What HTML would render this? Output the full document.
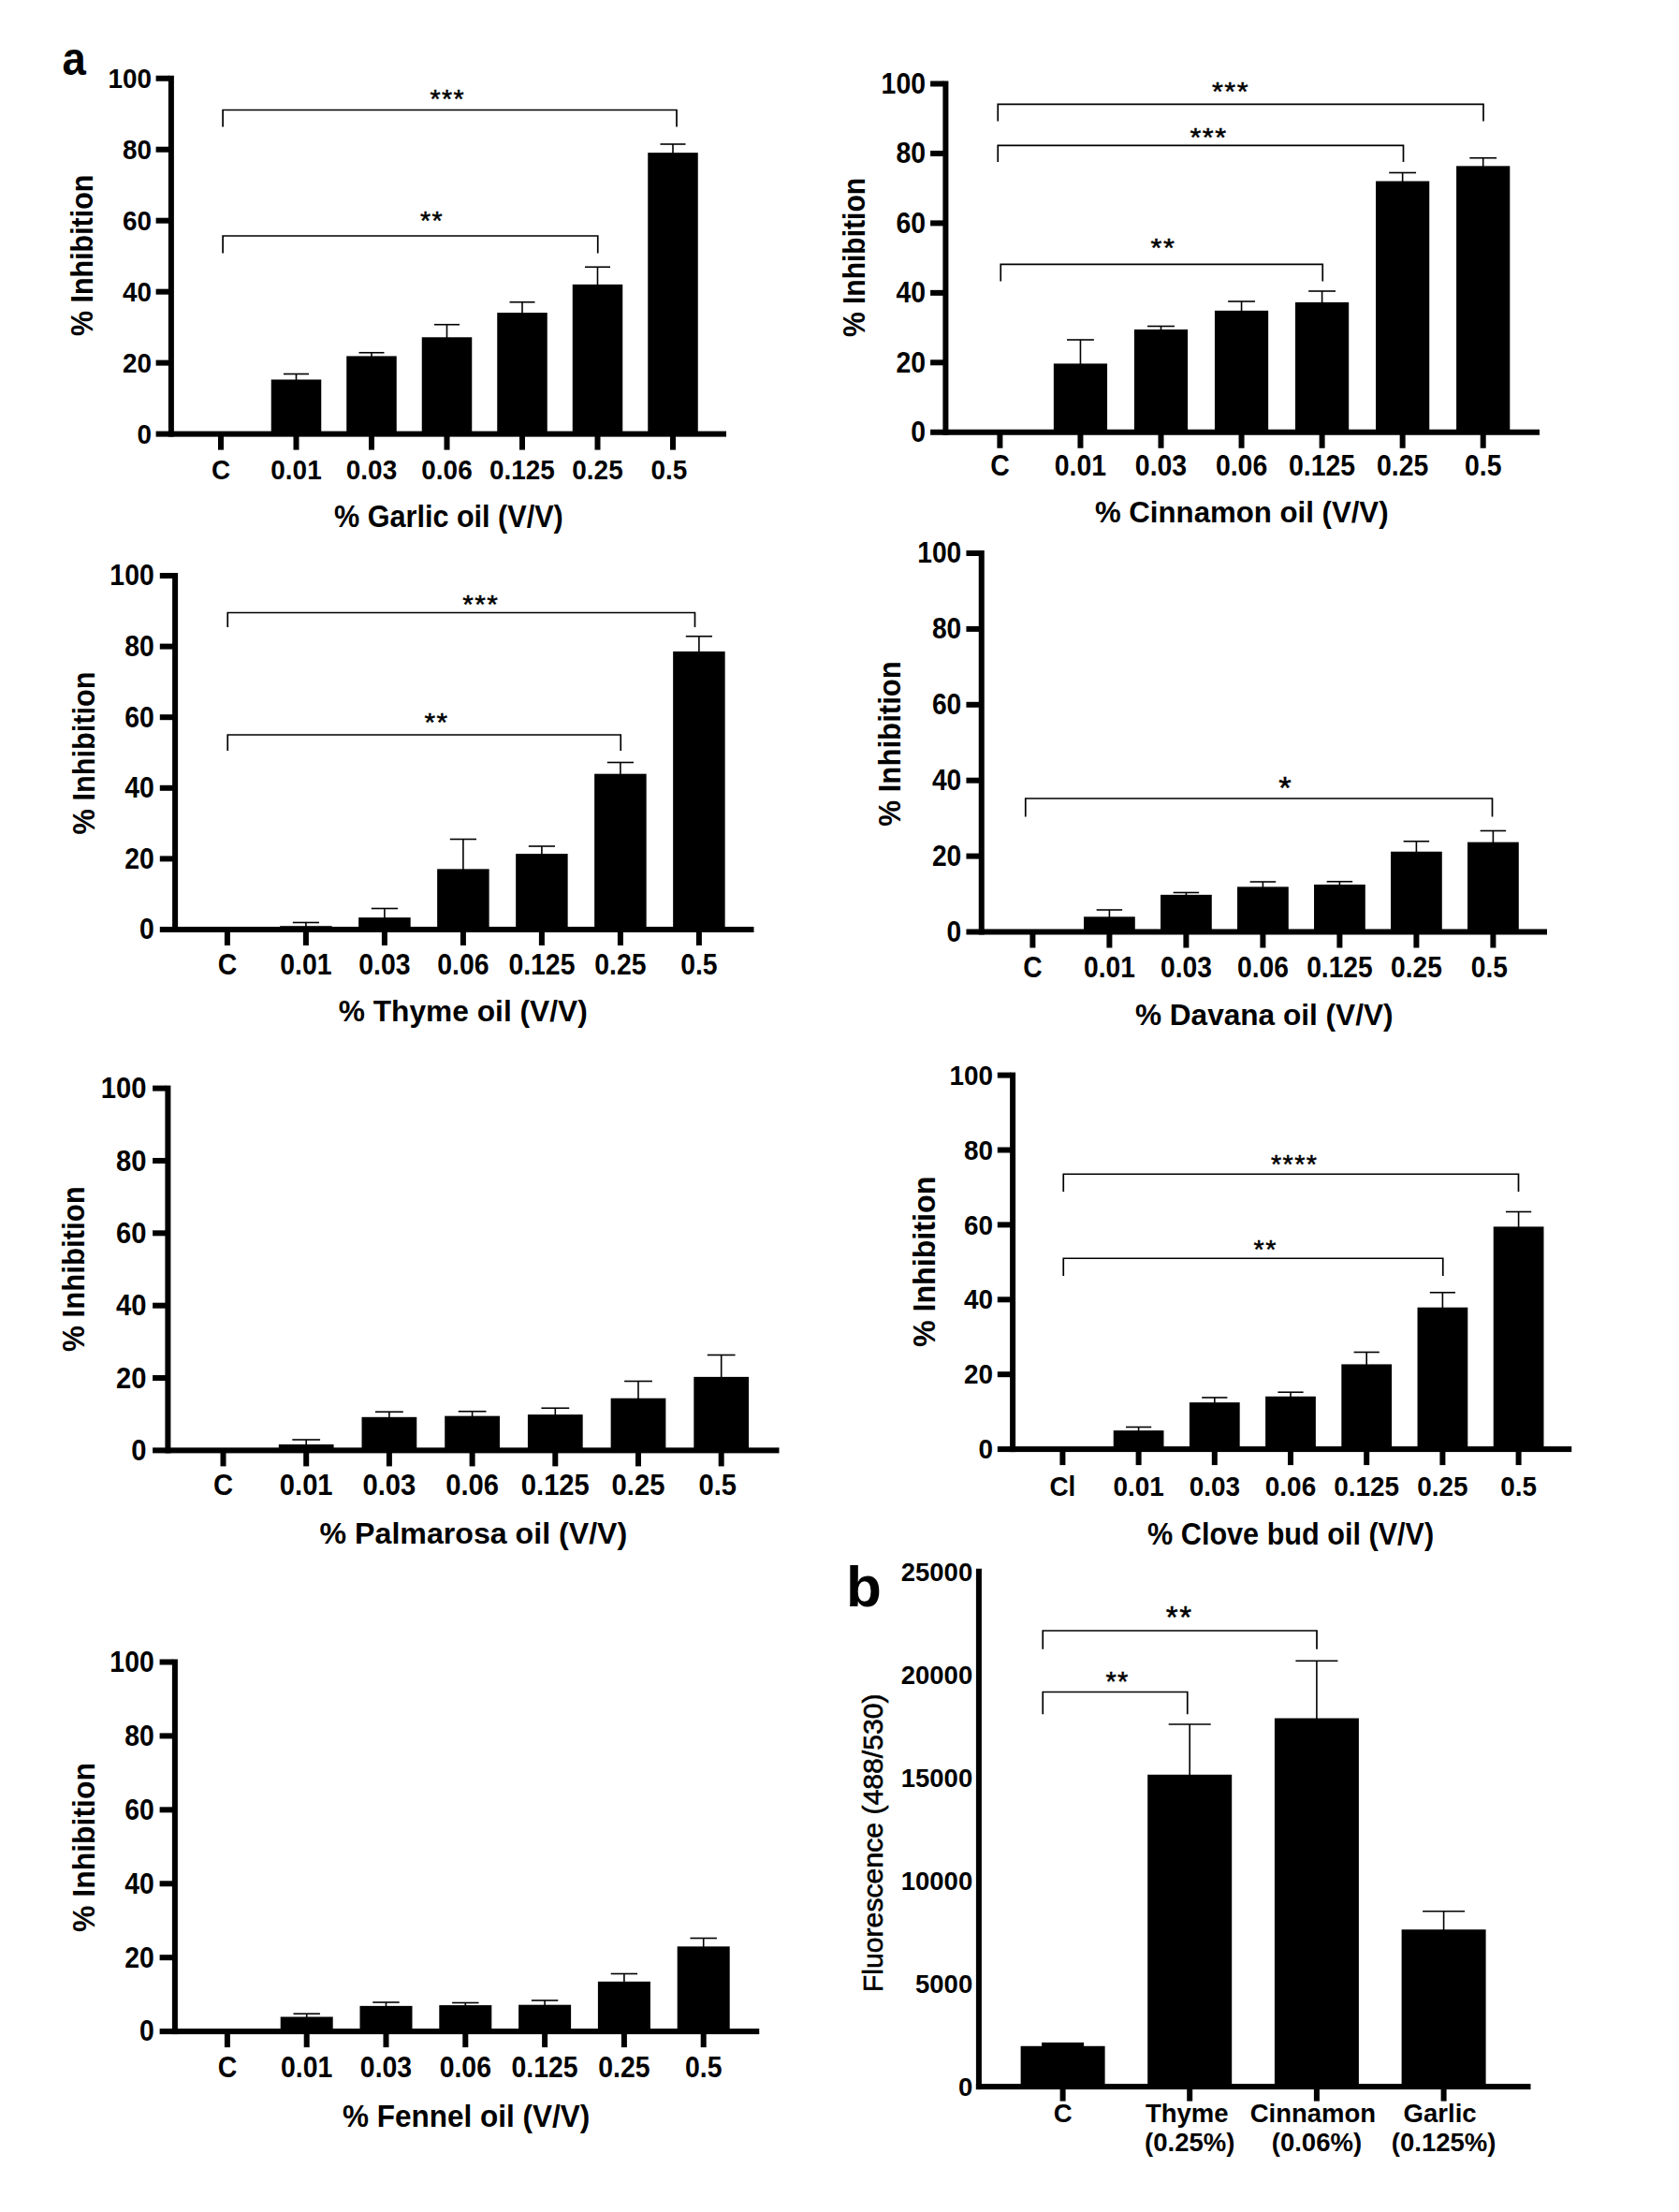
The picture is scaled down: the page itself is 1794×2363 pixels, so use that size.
<!DOCTYPE html>
<html lang="en">
<head>
<meta charset="utf-8">
<title>Essential oil inhibition figure</title>
<style>
html,body{margin:0;padding:0;background:#fff;}
body{width:1794px;height:2363px;overflow:hidden;}
svg{display:block;}
svg text{font-family:"Liberation Sans", Arial, Helvetica, sans-serif;fill:#000;}
svg rect{fill:#000;}
</style>
</head>
<body>
<svg width="1794" height="2363" viewBox="0 0 1794 2363">
<rect x="0" y="0" width="1794" height="2363" style="fill:#fff"/>
<rect x="179.90" y="80.75" width="6.00" height="385.85"/>
<rect x="166.60" y="460.60" width="609.40" height="6.00"/>
<text transform="translate(162.10 473.75) scale(0.9225 1)" font-size="30.24" font-weight="700" text-anchor="end">0</text>
<rect x="166.60" y="384.63" width="14.30" height="6.00"/>
<text transform="translate(162.10 397.78) scale(0.9225 1)" font-size="30.24" font-weight="700" text-anchor="end">20</text>
<rect x="166.60" y="308.66" width="14.30" height="6.00"/>
<text transform="translate(162.10 321.81) scale(0.9225 1)" font-size="30.24" font-weight="700" text-anchor="end">40</text>
<rect x="166.60" y="232.69" width="14.30" height="6.00"/>
<text transform="translate(162.10 245.84) scale(0.9225 1)" font-size="30.24" font-weight="700" text-anchor="end">60</text>
<rect x="166.60" y="156.72" width="14.30" height="6.00"/>
<text transform="translate(162.10 169.87) scale(0.9225 1)" font-size="30.24" font-weight="700" text-anchor="end">80</text>
<rect x="166.60" y="80.75" width="14.30" height="6.00"/>
<text transform="translate(162.10 93.90) scale(0.9225 1)" font-size="30.24" font-weight="700" text-anchor="end">100</text>
<rect x="233.00" y="463.60" width="6.00" height="17.00"/>
<text transform="translate(236.00 511.50) scale(0.9225 1)" font-size="30.24" font-weight="700" text-anchor="middle">C</text>
<rect x="313.50" y="463.60" width="6.00" height="17.00"/>
<rect x="289.75" y="405.48" width="53.50" height="58.12"/>
<line x1="316.50" y1="399.50" x2="316.50" y2="406.48" stroke="#000" stroke-width="1.6"/>
<line x1="303.00" y1="399.50" x2="330.00" y2="399.50" stroke="#000" stroke-width="1.6"/>
<text transform="translate(316.50 511.50) scale(0.9225 1)" font-size="30.24" font-weight="700" text-anchor="middle">0.01</text>
<rect x="394.00" y="463.60" width="6.00" height="17.00"/>
<rect x="370.25" y="380.41" width="53.50" height="83.19"/>
<line x1="397.00" y1="376.75" x2="397.00" y2="381.41" stroke="#000" stroke-width="1.6"/>
<line x1="383.50" y1="376.75" x2="410.50" y2="376.75" stroke="#000" stroke-width="1.6"/>
<text transform="translate(397.00 511.50) scale(0.9225 1)" font-size="30.24" font-weight="700" text-anchor="middle">0.03</text>
<rect x="474.50" y="463.60" width="6.00" height="17.00"/>
<rect x="450.75" y="360.28" width="53.50" height="103.32"/>
<line x1="477.50" y1="346.75" x2="477.50" y2="361.28" stroke="#000" stroke-width="1.6"/>
<line x1="464.00" y1="346.75" x2="491.00" y2="346.75" stroke="#000" stroke-width="1.6"/>
<text transform="translate(477.50 511.50) scale(0.9225 1)" font-size="30.24" font-weight="700" text-anchor="middle">0.06</text>
<rect x="555.00" y="463.60" width="6.00" height="17.00"/>
<rect x="531.25" y="334.07" width="53.50" height="129.53"/>
<line x1="558.00" y1="322.75" x2="558.00" y2="335.07" stroke="#000" stroke-width="1.6"/>
<line x1="544.50" y1="322.75" x2="571.50" y2="322.75" stroke="#000" stroke-width="1.6"/>
<text transform="translate(558.00 511.50) scale(0.9225 1)" font-size="30.24" font-weight="700" text-anchor="middle">0.125</text>
<rect x="635.50" y="463.60" width="6.00" height="17.00"/>
<rect x="611.75" y="303.87" width="53.50" height="159.73"/>
<line x1="638.50" y1="285.25" x2="638.50" y2="304.87" stroke="#000" stroke-width="1.6"/>
<line x1="625.00" y1="285.25" x2="652.00" y2="285.25" stroke="#000" stroke-width="1.6"/>
<text transform="translate(638.50 511.50) scale(0.9225 1)" font-size="30.24" font-weight="700" text-anchor="middle">0.25</text>
<rect x="716.00" y="463.60" width="6.00" height="17.00"/>
<rect x="692.25" y="163.14" width="53.50" height="300.46"/>
<line x1="719.00" y1="154.00" x2="719.00" y2="164.14" stroke="#000" stroke-width="1.6"/>
<line x1="705.50" y1="154.00" x2="732.50" y2="154.00" stroke="#000" stroke-width="1.6"/>
<text transform="translate(715.00 511.50) scale(0.9225 1)" font-size="30.24" font-weight="700" text-anchor="middle">0.5</text>
<path d="M238.10 135.40V117.50H723.00V135.40" fill="none" stroke="#000" stroke-width="1.7" stroke-linejoin="miter"/>
<text transform="translate(478.21 115.11)" font-size="28.50" font-weight="400" text-anchor="middle" letter-spacing="1.43" stroke="#000" stroke-width="0.5">***</text>
<path d="M238.10 270.50V252.00H638.75V270.50" fill="none" stroke="#000" stroke-width="1.7" stroke-linejoin="miter"/>
<text transform="translate(461.46 245.21)" font-size="28.50" font-weight="400" text-anchor="middle" letter-spacing="1.43" stroke="#000" stroke-width="0.5">**</text>
<text transform="translate(479.40 562.80) scale(0.9434 1)" font-size="32.44" font-weight="700" text-anchor="middle">% Garlic oil (V/V)</text>
<text transform="translate(99.00 272.80) rotate(-90) scale(0.9217 1)" font-size="33.00" font-weight="700" text-anchor="middle">% Inhibition</text>
<rect x="1007.40" y="86.50" width="6.00" height="378.25"/>
<rect x="994.10" y="458.75" width="650.90" height="6.00"/>
<text transform="translate(989.00 472.09) scale(0.9225 1)" font-size="30.78" font-weight="700" text-anchor="end">0</text>
<rect x="994.10" y="384.30" width="14.30" height="6.00"/>
<text transform="translate(989.00 397.64) scale(0.9225 1)" font-size="30.78" font-weight="700" text-anchor="end">20</text>
<rect x="994.10" y="309.85" width="14.30" height="6.00"/>
<text transform="translate(989.00 323.19) scale(0.9225 1)" font-size="30.78" font-weight="700" text-anchor="end">40</text>
<rect x="994.10" y="235.40" width="14.30" height="6.00"/>
<text transform="translate(989.00 248.74) scale(0.9225 1)" font-size="30.78" font-weight="700" text-anchor="end">60</text>
<rect x="994.10" y="160.95" width="14.30" height="6.00"/>
<text transform="translate(989.00 174.29) scale(0.9225 1)" font-size="30.78" font-weight="700" text-anchor="end">80</text>
<rect x="994.10" y="86.50" width="14.30" height="6.00"/>
<text transform="translate(989.00 99.84) scale(0.9225 1)" font-size="30.78" font-weight="700" text-anchor="end">100</text>
<rect x="1065.40" y="461.75" width="6.00" height="17.00"/>
<text transform="translate(1068.40 507.80) scale(0.9225 1)" font-size="30.78" font-weight="700" text-anchor="middle">C</text>
<rect x="1151.45" y="461.75" width="6.00" height="17.00"/>
<rect x="1125.85" y="388.42" width="57.20" height="73.33"/>
<line x1="1154.45" y1="363.00" x2="1154.45" y2="389.42" stroke="#000" stroke-width="1.6"/>
<line x1="1140.02" y1="363.00" x2="1168.88" y2="363.00" stroke="#000" stroke-width="1.6"/>
<text transform="translate(1154.45 507.80) scale(0.9225 1)" font-size="30.78" font-weight="700" text-anchor="middle">0.01</text>
<rect x="1237.50" y="461.75" width="6.00" height="17.00"/>
<rect x="1211.90" y="351.94" width="57.20" height="109.81"/>
<line x1="1240.50" y1="348.50" x2="1240.50" y2="352.94" stroke="#000" stroke-width="1.6"/>
<line x1="1226.07" y1="348.50" x2="1254.93" y2="348.50" stroke="#000" stroke-width="1.6"/>
<text transform="translate(1240.50 507.80) scale(0.9225 1)" font-size="30.78" font-weight="700" text-anchor="middle">0.03</text>
<rect x="1323.55" y="461.75" width="6.00" height="17.00"/>
<rect x="1297.95" y="331.83" width="57.20" height="129.92"/>
<line x1="1326.55" y1="322.00" x2="1326.55" y2="332.83" stroke="#000" stroke-width="1.6"/>
<line x1="1312.12" y1="322.00" x2="1340.98" y2="322.00" stroke="#000" stroke-width="1.6"/>
<text transform="translate(1326.55 507.80) scale(0.9225 1)" font-size="30.78" font-weight="700" text-anchor="middle">0.06</text>
<rect x="1409.60" y="461.75" width="6.00" height="17.00"/>
<rect x="1384.00" y="322.90" width="57.20" height="138.85"/>
<line x1="1412.60" y1="311.00" x2="1412.60" y2="323.90" stroke="#000" stroke-width="1.6"/>
<line x1="1398.17" y1="311.00" x2="1427.03" y2="311.00" stroke="#000" stroke-width="1.6"/>
<text transform="translate(1412.60 507.80) scale(0.9225 1)" font-size="30.78" font-weight="700" text-anchor="middle">0.125</text>
<rect x="1495.65" y="461.75" width="6.00" height="17.00"/>
<rect x="1470.05" y="193.51" width="57.20" height="268.24"/>
<line x1="1498.65" y1="184.50" x2="1498.65" y2="194.51" stroke="#000" stroke-width="1.6"/>
<line x1="1484.22" y1="184.50" x2="1513.08" y2="184.50" stroke="#000" stroke-width="1.6"/>
<text transform="translate(1498.65 507.80) scale(0.9225 1)" font-size="30.78" font-weight="700" text-anchor="middle">0.25</text>
<rect x="1581.70" y="461.75" width="6.00" height="17.00"/>
<rect x="1556.10" y="177.35" width="57.20" height="284.40"/>
<line x1="1584.70" y1="168.75" x2="1584.70" y2="178.35" stroke="#000" stroke-width="1.6"/>
<line x1="1570.27" y1="168.75" x2="1599.13" y2="168.75" stroke="#000" stroke-width="1.6"/>
<text transform="translate(1584.70 507.80) scale(0.9225 1)" font-size="30.78" font-weight="700" text-anchor="middle">0.5</text>
<path d="M1066.25 129.50V111.40H1585.00V129.50" fill="none" stroke="#000" stroke-width="1.7" stroke-linejoin="miter"/>
<text transform="translate(1315.06 106.76) scale(1.0689 1)" font-size="28.50" font-weight="400" text-anchor="middle" letter-spacing="1.43" stroke="#000" stroke-width="0.5">***</text>
<path d="M1066.25 173.00V155.30H1499.50V173.00" fill="none" stroke="#000" stroke-width="1.7" stroke-linejoin="miter"/>
<text transform="translate(1291.46 156.21) scale(1.0689 1)" font-size="28.50" font-weight="400" text-anchor="middle" letter-spacing="1.43" stroke="#000" stroke-width="0.5">***</text>
<path d="M1069.25 300.50V282.30H1413.25V300.50" fill="none" stroke="#000" stroke-width="1.7" stroke-linejoin="miter"/>
<text transform="translate(1242.96 274.31) scale(1.0689 1)" font-size="28.50" font-weight="400" text-anchor="middle" letter-spacing="1.43" stroke="#000" stroke-width="0.5">**</text>
<text transform="translate(1326.75 557.90) scale(0.9804 1)" font-size="31.82" font-weight="700" text-anchor="middle">% Cinnamon oil (V/V)</text>
<text transform="translate(924.00 275.00) rotate(-90) scale(0.9108 1)" font-size="33.00" font-weight="700" text-anchor="middle">% Inhibition</text>
<rect x="184.10" y="612.00" width="6.00" height="384.00"/>
<rect x="170.80" y="990.00" width="634.70" height="6.00"/>
<text transform="translate(164.75 1003.34) scale(0.9225 1)" font-size="30.78" font-weight="700" text-anchor="end">0</text>
<rect x="170.80" y="914.40" width="14.30" height="6.00"/>
<text transform="translate(164.75 927.74) scale(0.9225 1)" font-size="30.78" font-weight="700" text-anchor="end">20</text>
<rect x="170.80" y="838.80" width="14.30" height="6.00"/>
<text transform="translate(164.75 852.14) scale(0.9225 1)" font-size="30.78" font-weight="700" text-anchor="end">40</text>
<rect x="170.80" y="763.20" width="14.30" height="6.00"/>
<text transform="translate(164.75 776.54) scale(0.9225 1)" font-size="30.78" font-weight="700" text-anchor="end">60</text>
<rect x="170.80" y="687.60" width="14.30" height="6.00"/>
<text transform="translate(164.75 700.94) scale(0.9225 1)" font-size="30.78" font-weight="700" text-anchor="end">80</text>
<rect x="170.80" y="612.00" width="14.30" height="6.00"/>
<text transform="translate(164.75 625.34) scale(0.9225 1)" font-size="30.78" font-weight="700" text-anchor="end">100</text>
<rect x="239.90" y="993.00" width="6.00" height="17.00"/>
<text transform="translate(242.90 1040.50) scale(0.9225 1)" font-size="30.78" font-weight="700" text-anchor="middle">C</text>
<rect x="323.90" y="993.00" width="6.00" height="17.00"/>
<rect x="299.15" y="989.22" width="55.50" height="3.78"/>
<line x1="326.90" y1="985.50" x2="326.90" y2="990.22" stroke="#000" stroke-width="1.6"/>
<line x1="312.81" y1="985.50" x2="340.99" y2="985.50" stroke="#000" stroke-width="1.6"/>
<text transform="translate(326.90 1040.50) scale(0.9225 1)" font-size="30.78" font-weight="700" text-anchor="middle">0.01</text>
<rect x="407.90" y="993.00" width="6.00" height="17.00"/>
<rect x="383.15" y="980.15" width="55.50" height="12.85"/>
<line x1="410.90" y1="970.50" x2="410.90" y2="981.15" stroke="#000" stroke-width="1.6"/>
<line x1="396.81" y1="970.50" x2="424.99" y2="970.50" stroke="#000" stroke-width="1.6"/>
<text transform="translate(410.90 1040.50) scale(0.9225 1)" font-size="30.78" font-weight="700" text-anchor="middle">0.03</text>
<rect x="491.90" y="993.00" width="6.00" height="17.00"/>
<rect x="467.15" y="928.36" width="55.50" height="64.64"/>
<line x1="494.90" y1="896.50" x2="494.90" y2="929.36" stroke="#000" stroke-width="1.6"/>
<line x1="480.81" y1="896.50" x2="508.99" y2="896.50" stroke="#000" stroke-width="1.6"/>
<text transform="translate(494.90 1040.50) scale(0.9225 1)" font-size="30.78" font-weight="700" text-anchor="middle">0.06</text>
<rect x="575.90" y="993.00" width="6.00" height="17.00"/>
<rect x="551.15" y="912.11" width="55.50" height="80.89"/>
<line x1="578.90" y1="904.00" x2="578.90" y2="913.11" stroke="#000" stroke-width="1.6"/>
<line x1="564.81" y1="904.00" x2="592.99" y2="904.00" stroke="#000" stroke-width="1.6"/>
<text transform="translate(578.90 1040.50) scale(0.9225 1)" font-size="30.78" font-weight="700" text-anchor="middle">0.125</text>
<rect x="659.90" y="993.00" width="6.00" height="17.00"/>
<rect x="635.15" y="826.68" width="55.50" height="166.32"/>
<line x1="662.90" y1="814.50" x2="662.90" y2="827.68" stroke="#000" stroke-width="1.6"/>
<line x1="648.81" y1="814.50" x2="676.99" y2="814.50" stroke="#000" stroke-width="1.6"/>
<text transform="translate(662.90 1040.50) scale(0.9225 1)" font-size="30.78" font-weight="700" text-anchor="middle">0.25</text>
<rect x="743.90" y="993.00" width="6.00" height="17.00"/>
<rect x="719.15" y="695.89" width="55.50" height="297.11"/>
<line x1="746.90" y1="679.75" x2="746.90" y2="696.89" stroke="#000" stroke-width="1.6"/>
<line x1="732.81" y1="679.75" x2="760.99" y2="679.75" stroke="#000" stroke-width="1.6"/>
<text transform="translate(746.90 1040.50) scale(0.9225 1)" font-size="30.78" font-weight="700" text-anchor="middle">0.5</text>
<path d="M243.25 670.00V654.50H742.50V670.00" fill="none" stroke="#000" stroke-width="1.7" stroke-linejoin="miter"/>
<text transform="translate(513.84 654.86) scale(1.0435 1)" font-size="28.50" font-weight="400" text-anchor="middle" letter-spacing="1.43" stroke="#000" stroke-width="0.5">***</text>
<path d="M243.25 802.00V785.00H663.25V802.00" fill="none" stroke="#000" stroke-width="1.7" stroke-linejoin="miter"/>
<text transform="translate(466.49 780.61) scale(1.0435 1)" font-size="28.50" font-weight="400" text-anchor="middle" letter-spacing="1.43" stroke="#000" stroke-width="0.5">**</text>
<text transform="translate(494.75 1090.70) scale(0.9852 1)" font-size="32.18" font-weight="700" text-anchor="middle">% Thyme oil (V/V)</text>
<text transform="translate(100.75 804.40) rotate(-90) scale(0.9312 1)" font-size="33.00" font-weight="700" text-anchor="middle">% Inhibition</text>
<rect x="1045.75" y="588.00" width="6.00" height="410.50"/>
<rect x="1032.45" y="992.50" width="620.55" height="6.00"/>
<text transform="translate(1027.25 1005.77) scale(0.9225 1)" font-size="30.56" font-weight="700" text-anchor="end">0</text>
<rect x="1032.45" y="911.60" width="14.30" height="6.00"/>
<text transform="translate(1027.25 924.87) scale(0.9225 1)" font-size="30.56" font-weight="700" text-anchor="end">20</text>
<rect x="1032.45" y="830.70" width="14.30" height="6.00"/>
<text transform="translate(1027.25 843.97) scale(0.9225 1)" font-size="30.56" font-weight="700" text-anchor="end">40</text>
<rect x="1032.45" y="749.80" width="14.30" height="6.00"/>
<text transform="translate(1027.25 763.07) scale(0.9225 1)" font-size="30.56" font-weight="700" text-anchor="end">60</text>
<rect x="1032.45" y="668.90" width="14.30" height="6.00"/>
<text transform="translate(1027.25 682.17) scale(0.9225 1)" font-size="30.56" font-weight="700" text-anchor="end">80</text>
<rect x="1032.45" y="588.00" width="14.30" height="6.00"/>
<text transform="translate(1027.25 601.27) scale(0.9225 1)" font-size="30.56" font-weight="700" text-anchor="end">100</text>
<rect x="1100.40" y="995.50" width="6.00" height="17.00"/>
<text transform="translate(1103.40 1043.75) scale(0.9225 1)" font-size="30.56" font-weight="700" text-anchor="middle">C</text>
<rect x="1182.40" y="995.50" width="6.00" height="17.00"/>
<rect x="1158.03" y="979.32" width="54.75" height="16.18"/>
<line x1="1185.40" y1="972.00" x2="1185.40" y2="980.32" stroke="#000" stroke-width="1.6"/>
<line x1="1171.65" y1="972.00" x2="1199.15" y2="972.00" stroke="#000" stroke-width="1.6"/>
<text transform="translate(1185.40 1043.75) scale(0.9225 1)" font-size="30.56" font-weight="700" text-anchor="middle">0.01</text>
<rect x="1264.40" y="995.50" width="6.00" height="17.00"/>
<rect x="1240.03" y="955.86" width="54.75" height="39.64"/>
<line x1="1267.40" y1="953.50" x2="1267.40" y2="956.86" stroke="#000" stroke-width="1.6"/>
<line x1="1253.65" y1="953.50" x2="1281.15" y2="953.50" stroke="#000" stroke-width="1.6"/>
<text transform="translate(1267.40 1043.75) scale(0.9225 1)" font-size="30.56" font-weight="700" text-anchor="middle">0.03</text>
<rect x="1346.40" y="995.50" width="6.00" height="17.00"/>
<rect x="1322.03" y="947.36" width="54.75" height="48.14"/>
<line x1="1349.40" y1="942.00" x2="1349.40" y2="948.36" stroke="#000" stroke-width="1.6"/>
<line x1="1335.65" y1="942.00" x2="1363.15" y2="942.00" stroke="#000" stroke-width="1.6"/>
<text transform="translate(1349.40 1043.75) scale(0.9225 1)" font-size="30.56" font-weight="700" text-anchor="middle">0.06</text>
<rect x="1428.40" y="995.50" width="6.00" height="17.00"/>
<rect x="1404.03" y="944.94" width="54.75" height="50.56"/>
<line x1="1431.40" y1="941.75" x2="1431.40" y2="945.94" stroke="#000" stroke-width="1.6"/>
<line x1="1417.65" y1="941.75" x2="1445.15" y2="941.75" stroke="#000" stroke-width="1.6"/>
<text transform="translate(1431.40 1043.75) scale(0.9225 1)" font-size="30.56" font-weight="700" text-anchor="middle">0.125</text>
<rect x="1510.40" y="995.50" width="6.00" height="17.00"/>
<rect x="1486.03" y="909.75" width="54.75" height="85.75"/>
<line x1="1513.40" y1="898.75" x2="1513.40" y2="910.75" stroke="#000" stroke-width="1.6"/>
<line x1="1499.65" y1="898.75" x2="1527.15" y2="898.75" stroke="#000" stroke-width="1.6"/>
<text transform="translate(1513.40 1043.75) scale(0.9225 1)" font-size="30.56" font-weight="700" text-anchor="middle">0.25</text>
<rect x="1592.40" y="995.50" width="6.00" height="17.00"/>
<rect x="1568.03" y="899.63" width="54.75" height="95.87"/>
<line x1="1595.40" y1="887.50" x2="1595.40" y2="900.63" stroke="#000" stroke-width="1.6"/>
<line x1="1581.65" y1="887.50" x2="1609.15" y2="887.50" stroke="#000" stroke-width="1.6"/>
<text transform="translate(1591.40 1043.75) scale(0.9225 1)" font-size="30.56" font-weight="700" text-anchor="middle">0.5</text>
<path d="M1095.75 872.50V853.00H1594.50V872.50" fill="none" stroke="#000" stroke-width="1.7" stroke-linejoin="miter"/>
<text transform="translate(1373.77 853.33) scale(1.0186 1)" font-size="34.00" font-weight="400" text-anchor="middle" letter-spacing="1.70" stroke="#000" stroke-width="0.5">*</text>
<text transform="translate(1350.75 1094.80)" font-size="31.60" font-weight="700" text-anchor="middle">% Davana oil (V/V)</text>
<text transform="translate(962.00 794.40) rotate(-90) scale(0.9448 1)" font-size="33.00" font-weight="700" text-anchor="middle">% Inhibition</text>
<rect x="176.40" y="1159.60" width="6.00" height="392.80"/>
<rect x="163.10" y="1546.40" width="669.40" height="6.00"/>
<text transform="translate(156.50 1560.04) scale(0.9225 1)" font-size="31.64" font-weight="700" text-anchor="end">0</text>
<rect x="163.10" y="1469.04" width="14.30" height="6.00"/>
<text transform="translate(156.50 1482.68) scale(0.9225 1)" font-size="31.64" font-weight="700" text-anchor="end">20</text>
<rect x="163.10" y="1391.68" width="14.30" height="6.00"/>
<text transform="translate(156.50 1405.32) scale(0.9225 1)" font-size="31.64" font-weight="700" text-anchor="end">40</text>
<rect x="163.10" y="1314.32" width="14.30" height="6.00"/>
<text transform="translate(156.50 1327.96) scale(0.9225 1)" font-size="31.64" font-weight="700" text-anchor="end">60</text>
<rect x="163.10" y="1236.96" width="14.30" height="6.00"/>
<text transform="translate(156.50 1250.60) scale(0.9225 1)" font-size="31.64" font-weight="700" text-anchor="end">80</text>
<rect x="163.10" y="1159.60" width="14.30" height="6.00"/>
<text transform="translate(156.50 1173.24) scale(0.9225 1)" font-size="31.64" font-weight="700" text-anchor="end">100</text>
<rect x="235.50" y="1549.40" width="6.00" height="17.00"/>
<text transform="translate(238.50 1597.45) scale(0.9225 1)" font-size="31.64" font-weight="700" text-anchor="middle">C</text>
<rect x="324.20" y="1549.40" width="6.00" height="17.00"/>
<rect x="297.82" y="1543.02" width="58.75" height="6.38"/>
<line x1="327.20" y1="1538.00" x2="327.20" y2="1544.02" stroke="#000" stroke-width="1.6"/>
<line x1="312.32" y1="1538.00" x2="342.08" y2="1538.00" stroke="#000" stroke-width="1.6"/>
<text transform="translate(327.20 1597.45) scale(0.9225 1)" font-size="31.64" font-weight="700" text-anchor="middle">0.01</text>
<rect x="412.90" y="1549.40" width="6.00" height="17.00"/>
<rect x="386.52" y="1513.81" width="58.75" height="35.59"/>
<line x1="415.90" y1="1508.25" x2="415.90" y2="1514.81" stroke="#000" stroke-width="1.6"/>
<line x1="401.02" y1="1508.25" x2="430.78" y2="1508.25" stroke="#000" stroke-width="1.6"/>
<text transform="translate(415.90 1597.45) scale(0.9225 1)" font-size="31.64" font-weight="700" text-anchor="middle">0.03</text>
<rect x="501.60" y="1549.40" width="6.00" height="17.00"/>
<rect x="475.23" y="1512.65" width="58.75" height="36.75"/>
<line x1="504.60" y1="1507.75" x2="504.60" y2="1513.65" stroke="#000" stroke-width="1.6"/>
<line x1="489.72" y1="1507.75" x2="519.48" y2="1507.75" stroke="#000" stroke-width="1.6"/>
<text transform="translate(504.60 1597.45) scale(0.9225 1)" font-size="31.64" font-weight="700" text-anchor="middle">0.06</text>
<rect x="590.30" y="1549.40" width="6.00" height="17.00"/>
<rect x="563.92" y="1511.11" width="58.75" height="38.29"/>
<line x1="593.30" y1="1504.25" x2="593.30" y2="1512.11" stroke="#000" stroke-width="1.6"/>
<line x1="578.42" y1="1504.25" x2="608.18" y2="1504.25" stroke="#000" stroke-width="1.6"/>
<text transform="translate(593.30 1597.45) scale(0.9225 1)" font-size="31.64" font-weight="700" text-anchor="middle">0.125</text>
<rect x="679.00" y="1549.40" width="6.00" height="17.00"/>
<rect x="652.62" y="1493.70" width="58.75" height="55.70"/>
<line x1="682.00" y1="1475.50" x2="682.00" y2="1494.70" stroke="#000" stroke-width="1.6"/>
<line x1="667.12" y1="1475.50" x2="696.88" y2="1475.50" stroke="#000" stroke-width="1.6"/>
<text transform="translate(682.00 1597.45) scale(0.9225 1)" font-size="31.64" font-weight="700" text-anchor="middle">0.25</text>
<rect x="767.70" y="1549.40" width="6.00" height="17.00"/>
<rect x="741.33" y="1470.88" width="58.75" height="78.52"/>
<line x1="770.70" y1="1447.50" x2="770.70" y2="1471.88" stroke="#000" stroke-width="1.6"/>
<line x1="755.82" y1="1447.50" x2="785.58" y2="1447.50" stroke="#000" stroke-width="1.6"/>
<text transform="translate(766.70 1597.45) scale(0.9225 1)" font-size="31.64" font-weight="700" text-anchor="middle">0.5</text>
<text transform="translate(505.90 1648.70)" font-size="32.15" font-weight="700" text-anchor="middle">% Palmarosa oil (V/V)</text>
<text transform="translate(90.25 1355.60) rotate(-90) scale(0.9448 1)" font-size="33.00" font-weight="700" text-anchor="middle">% Inhibition</text>
<rect x="1079.10" y="1145.60" width="6.00" height="405.50"/>
<rect x="1065.80" y="1545.10" width="613.45" height="6.00"/>
<text transform="translate(1061.00 1558.25) scale(0.9225 1)" font-size="30.24" font-weight="700" text-anchor="end">0</text>
<rect x="1065.80" y="1465.20" width="14.30" height="6.00"/>
<text transform="translate(1061.00 1478.35) scale(0.9225 1)" font-size="30.24" font-weight="700" text-anchor="end">20</text>
<rect x="1065.80" y="1385.30" width="14.30" height="6.00"/>
<text transform="translate(1061.00 1398.45) scale(0.9225 1)" font-size="30.24" font-weight="700" text-anchor="end">40</text>
<rect x="1065.80" y="1305.40" width="14.30" height="6.00"/>
<text transform="translate(1061.00 1318.55) scale(0.9225 1)" font-size="30.24" font-weight="700" text-anchor="end">60</text>
<rect x="1065.80" y="1225.50" width="14.30" height="6.00"/>
<text transform="translate(1061.00 1238.65) scale(0.9225 1)" font-size="30.24" font-weight="700" text-anchor="end">80</text>
<rect x="1065.80" y="1145.60" width="14.30" height="6.00"/>
<text transform="translate(1061.00 1158.75) scale(0.9225 1)" font-size="30.24" font-weight="700" text-anchor="end">100</text>
<rect x="1132.40" y="1548.10" width="6.00" height="17.00"/>
<text transform="translate(1135.40 1597.80) scale(0.9225 1)" font-size="30.24" font-weight="700" text-anchor="middle">Cl</text>
<rect x="1213.60" y="1548.10" width="6.00" height="17.00"/>
<rect x="1189.73" y="1528.12" width="53.75" height="19.97"/>
<line x1="1216.60" y1="1524.50" x2="1216.60" y2="1529.12" stroke="#000" stroke-width="1.6"/>
<line x1="1202.98" y1="1524.50" x2="1230.22" y2="1524.50" stroke="#000" stroke-width="1.6"/>
<text transform="translate(1216.60 1597.80) scale(0.9225 1)" font-size="30.24" font-weight="700" text-anchor="middle">0.01</text>
<rect x="1294.80" y="1548.10" width="6.00" height="17.00"/>
<rect x="1270.93" y="1498.16" width="53.75" height="49.94"/>
<line x1="1297.80" y1="1493.00" x2="1297.80" y2="1499.16" stroke="#000" stroke-width="1.6"/>
<line x1="1284.18" y1="1493.00" x2="1311.42" y2="1493.00" stroke="#000" stroke-width="1.6"/>
<text transform="translate(1297.80 1597.80) scale(0.9225 1)" font-size="30.24" font-weight="700" text-anchor="middle">0.03</text>
<rect x="1376.00" y="1548.10" width="6.00" height="17.00"/>
<rect x="1352.12" y="1491.77" width="53.75" height="56.33"/>
<line x1="1379.00" y1="1487.25" x2="1379.00" y2="1492.77" stroke="#000" stroke-width="1.6"/>
<line x1="1365.38" y1="1487.25" x2="1392.62" y2="1487.25" stroke="#000" stroke-width="1.6"/>
<text transform="translate(1379.00 1597.80) scale(0.9225 1)" font-size="30.24" font-weight="700" text-anchor="middle">0.06</text>
<rect x="1457.20" y="1548.10" width="6.00" height="17.00"/>
<rect x="1433.33" y="1457.41" width="53.75" height="90.69"/>
<line x1="1460.20" y1="1444.50" x2="1460.20" y2="1458.41" stroke="#000" stroke-width="1.6"/>
<line x1="1446.58" y1="1444.50" x2="1473.82" y2="1444.50" stroke="#000" stroke-width="1.6"/>
<text transform="translate(1460.20 1597.80) scale(0.9225 1)" font-size="30.24" font-weight="700" text-anchor="middle">0.125</text>
<rect x="1538.40" y="1548.10" width="6.00" height="17.00"/>
<rect x="1514.53" y="1396.69" width="53.75" height="151.41"/>
<line x1="1541.40" y1="1380.75" x2="1541.40" y2="1397.69" stroke="#000" stroke-width="1.6"/>
<line x1="1527.78" y1="1380.75" x2="1555.02" y2="1380.75" stroke="#000" stroke-width="1.6"/>
<text transform="translate(1541.40 1597.80) scale(0.9225 1)" font-size="30.24" font-weight="700" text-anchor="middle">0.25</text>
<rect x="1619.60" y="1548.10" width="6.00" height="17.00"/>
<rect x="1595.73" y="1310.40" width="53.75" height="237.70"/>
<line x1="1622.60" y1="1294.50" x2="1622.60" y2="1311.40" stroke="#000" stroke-width="1.6"/>
<line x1="1608.98" y1="1294.50" x2="1636.22" y2="1294.50" stroke="#000" stroke-width="1.6"/>
<text transform="translate(1622.60 1597.80) scale(0.9225 1)" font-size="30.24" font-weight="700" text-anchor="middle">0.5</text>
<path d="M1136.25 1273.00V1254.25H1622.50V1273.00" fill="none" stroke="#000" stroke-width="1.7" stroke-linejoin="miter"/>
<text transform="translate(1383.22 1252.86) scale(1.0087 1)" font-size="28.50" font-weight="400" text-anchor="middle" letter-spacing="1.43" stroke="#000" stroke-width="0.5">****</text>
<path d="M1136.25 1363.00V1344.25H1541.75V1363.00" fill="none" stroke="#000" stroke-width="1.7" stroke-linejoin="miter"/>
<text transform="translate(1352.22 1343.51) scale(1.0087 1)" font-size="28.50" font-weight="400" text-anchor="middle" letter-spacing="1.43" stroke="#000" stroke-width="0.5">**</text>
<text transform="translate(1379.10 1650.20) scale(0.9390 1)" font-size="32.59" font-weight="700" text-anchor="middle">% Clove bud oil (V/V)</text>
<text transform="translate(998.50 1347.90) rotate(-90) scale(0.9761 1)" font-size="33.00" font-weight="700" text-anchor="middle">% Inhibition</text>
<rect x="183.90" y="1772.50" width="6.00" height="400.60"/>
<rect x="170.60" y="2167.10" width="640.65" height="6.00"/>
<text transform="translate(164.75 2180.44) scale(0.9225 1)" font-size="30.78" font-weight="700" text-anchor="end">0</text>
<rect x="170.60" y="2088.18" width="14.30" height="6.00"/>
<text transform="translate(164.75 2101.52) scale(0.9225 1)" font-size="30.78" font-weight="700" text-anchor="end">20</text>
<rect x="170.60" y="2009.26" width="14.30" height="6.00"/>
<text transform="translate(164.75 2022.60) scale(0.9225 1)" font-size="30.78" font-weight="700" text-anchor="end">40</text>
<rect x="170.60" y="1930.34" width="14.30" height="6.00"/>
<text transform="translate(164.75 1943.68) scale(0.9225 1)" font-size="30.78" font-weight="700" text-anchor="end">60</text>
<rect x="170.60" y="1851.42" width="14.30" height="6.00"/>
<text transform="translate(164.75 1864.76) scale(0.9225 1)" font-size="30.78" font-weight="700" text-anchor="end">80</text>
<rect x="170.60" y="1772.50" width="14.30" height="6.00"/>
<text transform="translate(164.75 1785.84) scale(0.9225 1)" font-size="30.78" font-weight="700" text-anchor="end">100</text>
<rect x="239.90" y="2170.10" width="6.00" height="17.00"/>
<text transform="translate(242.90 2219.45) scale(0.9225 1)" font-size="30.78" font-weight="700" text-anchor="middle">C</text>
<rect x="324.70" y="2170.10" width="6.00" height="17.00"/>
<rect x="299.70" y="2154.51" width="56.00" height="15.59"/>
<line x1="327.70" y1="2151.25" x2="327.70" y2="2155.51" stroke="#000" stroke-width="1.6"/>
<line x1="313.48" y1="2151.25" x2="341.92" y2="2151.25" stroke="#000" stroke-width="1.6"/>
<text transform="translate(327.70 2219.45) scale(0.9225 1)" font-size="30.78" font-weight="700" text-anchor="middle">0.01</text>
<rect x="409.50" y="2170.10" width="6.00" height="17.00"/>
<rect x="384.50" y="2142.87" width="56.00" height="27.23"/>
<line x1="412.50" y1="2139.00" x2="412.50" y2="2143.87" stroke="#000" stroke-width="1.6"/>
<line x1="398.28" y1="2139.00" x2="426.72" y2="2139.00" stroke="#000" stroke-width="1.6"/>
<text transform="translate(412.50 2219.45) scale(0.9225 1)" font-size="30.78" font-weight="700" text-anchor="middle">0.03</text>
<rect x="494.30" y="2170.10" width="6.00" height="17.00"/>
<rect x="469.30" y="2142.08" width="56.00" height="28.02"/>
<line x1="497.30" y1="2139.50" x2="497.30" y2="2143.08" stroke="#000" stroke-width="1.6"/>
<line x1="483.08" y1="2139.50" x2="511.52" y2="2139.50" stroke="#000" stroke-width="1.6"/>
<text transform="translate(497.30 2219.45) scale(0.9225 1)" font-size="30.78" font-weight="700" text-anchor="middle">0.06</text>
<rect x="579.10" y="2170.10" width="6.00" height="17.00"/>
<rect x="554.10" y="2141.69" width="56.00" height="28.41"/>
<line x1="582.10" y1="2137.00" x2="582.10" y2="2142.69" stroke="#000" stroke-width="1.6"/>
<line x1="567.88" y1="2137.00" x2="596.32" y2="2137.00" stroke="#000" stroke-width="1.6"/>
<text transform="translate(582.10 2219.45) scale(0.9225 1)" font-size="30.78" font-weight="700" text-anchor="middle">0.125</text>
<rect x="663.90" y="2170.10" width="6.00" height="17.00"/>
<rect x="638.90" y="2116.83" width="56.00" height="53.27"/>
<line x1="666.90" y1="2108.50" x2="666.90" y2="2117.83" stroke="#000" stroke-width="1.6"/>
<line x1="652.68" y1="2108.50" x2="681.12" y2="2108.50" stroke="#000" stroke-width="1.6"/>
<text transform="translate(666.90 2219.45) scale(0.9225 1)" font-size="30.78" font-weight="700" text-anchor="middle">0.25</text>
<rect x="748.70" y="2170.10" width="6.00" height="17.00"/>
<rect x="723.70" y="2079.34" width="56.00" height="90.76"/>
<line x1="751.70" y1="2070.50" x2="751.70" y2="2080.34" stroke="#000" stroke-width="1.6"/>
<line x1="737.48" y1="2070.50" x2="765.92" y2="2070.50" stroke="#000" stroke-width="1.6"/>
<text transform="translate(751.70 2219.45) scale(0.9225 1)" font-size="30.78" font-weight="700" text-anchor="middle">0.5</text>
<text transform="translate(498.10 2272.30) scale(0.9709 1)" font-size="32.45" font-weight="700" text-anchor="middle">% Fennel oil (V/V)</text>
<text transform="translate(100.75 1973.50) rotate(-90) scale(0.9679 1)" font-size="33.00" font-weight="700" text-anchor="middle">% Inhibition</text>
<rect x="1042.90" y="1675.75" width="6.00" height="556.35"/>
<rect x="1042.90" y="2226.10" width="592.60" height="6.00"/>
<text transform="translate(1039.20 2239.00)" font-size="27.50" font-weight="700" text-anchor="end">0</text>
<text transform="translate(1039.20 2129.00)" font-size="27.50" font-weight="700" text-anchor="end">5000</text>
<text transform="translate(1039.20 2019.00)" font-size="27.50" font-weight="700" text-anchor="end">10000</text>
<text transform="translate(1039.20 1909.00)" font-size="27.50" font-weight="700" text-anchor="end">15000</text>
<text transform="translate(1039.20 1799.00)" font-size="27.50" font-weight="700" text-anchor="end">20000</text>
<text transform="translate(1039.20 1689.00)" font-size="27.50" font-weight="700" text-anchor="end">25000</text>
<rect x="1132.60" y="2229.10" width="6.00" height="15.50"/>
<rect x="1090.60" y="2185.76" width="90.00" height="43.34"/>
<rect x="1113.10" y="2181.90" width="45.00" height="4.26"/>
<text transform="translate(1135.60 2266.75)" font-size="27.50" font-weight="700" text-anchor="middle">C</text>
<rect x="1268.20" y="2229.10" width="6.00" height="15.50"/>
<rect x="1226.20" y="1895.80" width="90.00" height="333.30"/>
<line x1="1271.20" y1="1842.00" x2="1271.20" y2="1896.80" stroke="#000" stroke-width="1.6"/>
<line x1="1248.70" y1="1842.00" x2="1293.70" y2="1842.00" stroke="#000" stroke-width="1.6"/>
<text transform="translate(1268.20 2266.75)" font-size="27.50" font-weight="700" text-anchor="middle">Thyme</text>
<text transform="translate(1271.20 2297.50)" font-size="27.50" font-weight="700" text-anchor="middle">(0.25%)</text>
<rect x="1403.90" y="2229.10" width="6.00" height="15.50"/>
<rect x="1361.90" y="1835.52" width="90.00" height="393.58"/>
<line x1="1406.90" y1="1774.25" x2="1406.90" y2="1836.52" stroke="#000" stroke-width="1.6"/>
<line x1="1384.40" y1="1774.25" x2="1429.40" y2="1774.25" stroke="#000" stroke-width="1.6"/>
<text transform="translate(1402.90 2266.75)" font-size="27.50" font-weight="700" text-anchor="middle">Cinnamon</text>
<text transform="translate(1406.90 2297.50)" font-size="27.50" font-weight="700" text-anchor="middle">(0.06%)</text>
<rect x="1539.60" y="2229.10" width="6.00" height="15.50"/>
<rect x="1497.60" y="2061.24" width="90.00" height="167.86"/>
<line x1="1542.60" y1="2041.75" x2="1542.60" y2="2062.24" stroke="#000" stroke-width="1.6"/>
<line x1="1520.10" y1="2041.75" x2="1565.10" y2="2041.75" stroke="#000" stroke-width="1.6"/>
<text transform="translate(1538.60 2266.75)" font-size="27.50" font-weight="700" text-anchor="middle">Garlic</text>
<text transform="translate(1542.60 2297.50)" font-size="27.50" font-weight="700" text-anchor="middle">(0.125%)</text>
<path d="M1114.25 1761.75V1742.00H1407.00V1761.75" fill="none" stroke="#000" stroke-width="1.7" stroke-linejoin="miter"/>
<text transform="translate(1260.23 1738.84)" font-size="33.00" font-weight="400" text-anchor="middle" letter-spacing="1.65" stroke="#000" stroke-width="0.5">**</text>
<path d="M1114.25 1831.25V1807.50H1268.75V1831.25" fill="none" stroke="#000" stroke-width="1.7" stroke-linejoin="miter"/>
<text transform="translate(1194.12 1805.61)" font-size="29.00" font-weight="400" text-anchor="middle" letter-spacing="1.45" stroke="#000" stroke-width="0.5">**</text>
<text transform="translate(943.00 1968.75) rotate(-90)" font-size="30.20" font-weight="400" text-anchor="middle" stroke="#000" stroke-width="0.6">Fluorescence (488/530)</text>
<text transform="translate(66.60 79.70) scale(0.9200 1)" font-size="49.50" font-weight="700" text-anchor="start">a</text>
<text transform="translate(904.10 1715.50)" font-size="62.00" font-weight="700" text-anchor="start">b</text>
</svg>
</body>
</html>
